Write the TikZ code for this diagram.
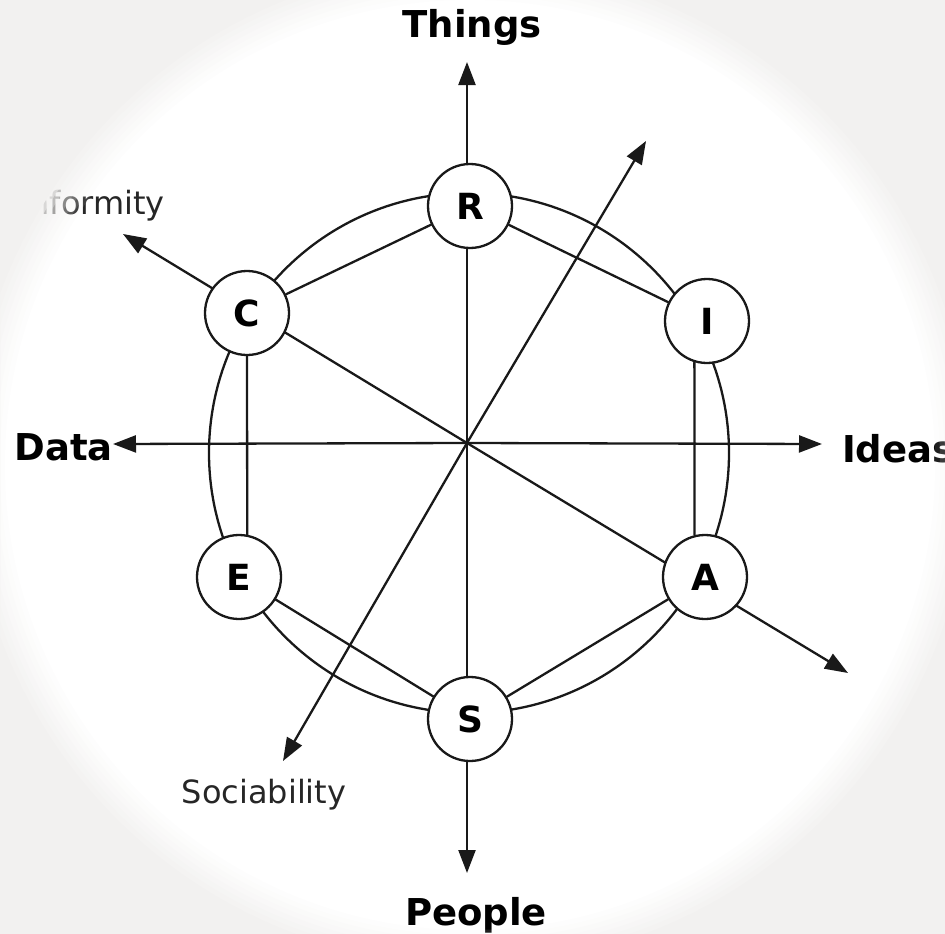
\documentclass[tikz,border=0pt]{standalone}
\usepackage{fontspec}
\setmainfont{DejaVu Sans}
\usetikzlibrary{arrows.meta}
\definecolor{vignette}{RGB}{242,241,240}

\begin{document}
\begin{tikzpicture}[line cap=round,line join=round,>={Triangle[length=23pt,width=17pt]},x=1pt,y=-1pt,
    axis/.style={->,line width=2.3pt,color=black!90},
    ring/.style={line width=2.3pt,color=black!90},
    letter/.style={circle,draw=black!90,line width=2.3pt,fill=white,minimum size=84pt,inner sep=0pt,font=\fontsize{36}{36}\selectfont\bfseries},
    bigword/.style={inner sep=0pt,font=\fontsize{37}{37}\selectfont\bfseries},
    smallword/.style={inner sep=0pt,color=black!85,font=\fontsize{32}{32}\selectfont}]
    \useasboundingbox (0,0) rectangle (945,934);
    \coordinate (O) at (467,443);
    \coordinate (tipN) at (467,62);
    \coordinate (tipS) at (467,873);
    \coordinate (tipW) at (113,444);
    \coordinate (tipE) at (822,444);
    \coordinate (tipNW) at (123,234);
    \coordinate (tipSE) at (848,673);
    \coordinate (tipNE) at (646,141);
    \coordinate (tipSW) at (283,761);
    \foreach \t in {tipN,tipS,tipW,tipE,tipNW,tipSE,tipNE,tipSW}
    \draw[axis] (O) -- (\t);
    \draw[ring] (469,453) circle (260);
    \node[letter] (R) at (470,206) {R};
    \node[letter] (I) at (707,321) {I};
    \node[letter] (A) at (705,577) {A};
    \node[letter] (S) at (470,719) {S};
    \node[letter] (E) at (239,577) {E};
    \node[letter] (C) at (247,313) {C};
    \draw[ring] (R) -- (I) (R) -- (C) (I.253) -- (A.104) (A) -- (S) (S) -- (E) (E.79) -- (C.south);
    \node[bigword,anchor=base] (things) at (472,38) {Things};
    \node[bigword,anchor=base] (people) at (476,925) {People};
    \node[bigword,anchor=base east] (data) at (113,460) {Data};
    \node[bigword,anchor=base west] (ideas) at (842,462) {Ideas};
    \node[smallword,anchor=base] (sociability) at (264,803) {Sociability};
    \node[smallword,anchor=base east] (conformity) at (165,214) {Conformity};
    \foreach \j in {0,...,7} {
        \pgfmathsetmacro\op{1/(8-\j)}
        \fill[vignette,opacity=\op,even odd rule] (0,0) rectangle (945,934) (470,465) circle ({465+5*\j});
    }
\end{tikzpicture}
\end{document}
